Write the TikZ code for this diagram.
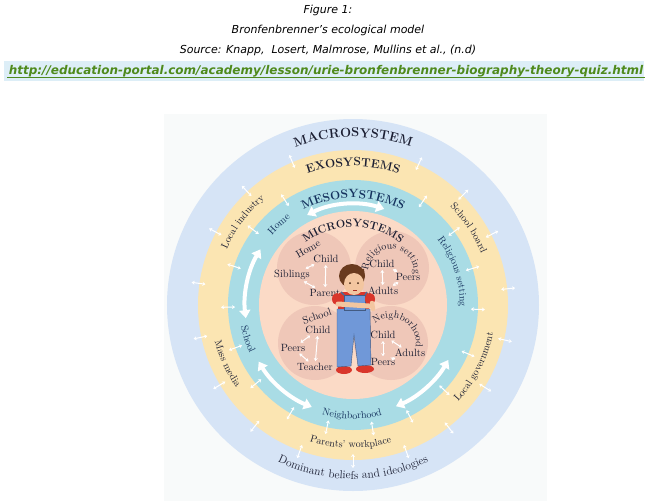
\documentclass[tikz,border=0pt]{standalone}
\usepackage{fontspec}
\newfontfamily\headfont{DejaVu Sans}
\usetikzlibrary{arrows.meta,decorations.text,positioning,calc}

\definecolor{panel}{HTML}{F8FAFA}
\definecolor{macro}{HTML}{D6E4F6}
\definecolor{exo}{HTML}{FBE5B2}
\definecolor{meso}{HTML}{A9DCE5}
\definecolor{micro}{HTML}{FBDAC6}
\definecolor{lobe}{HTML}{EFC7B8}
\definecolor{ink}{HTML}{1C1F33}
\definecolor{mesoink}{HTML}{15325E}
\definecolor{urlgreen}{HTML}{4F8A1C}
\definecolor{urlback}{HTML}{DDEEF7}
\definecolor{hair}{HTML}{6A3B1E}
\definecolor{skin}{HTML}{F3C6A0}
\definecolor{shirt}{HTML}{D9362B}
\definecolor{denim}{HTML}{7098D8}

\tikzset{
  headline/.style={font=\headfont\itshape\fontsize{11}{12}\selectfont, text=black},
  lobetext/.style={font=\fontsize{10.5}{11}\selectfont, text=ink, inner sep=1pt},
  bigarrow/.style={white, line width=4pt, {Triangle[width=11pt,length=8pt]}-{Triangle[width=11pt,length=8pt]}},
  tinyarrow/.style={white, line width=1pt, {Stealth[width=4pt,length=3pt]}-{Stealth[width=4pt,length=3pt]}},
}

% text set on an arc: radius, start, end, font, colour, text
\newcommand{\arclabel}[6]{%
  \path[decorate, decoration={text along path, text align=center, text color=#5,
    text={|#4|#6}}] (#2:#1) arc[start angle=#2, end angle=#3, radius=#1];}

\begin{document}
\begin{tikzpicture}[x=1pt, y=1pt]
  \useasboundingbox (-353,-196) rectangle (299,305);

  % caption
  \node[headline] (fig) at (-25,295) {Figure 1:};
  \node[headline] (title) at (-25,275) {Bronfenbrenner’s ecological model};
  \node[headline] (source) at (-25,255) {Source: Knapp,\ \ Losert, Malmrose, Mullins et al., (n.d)};
  \fill[urlback] (-349,224) rectangle (291,244);
  \node[font=\headfont\bfseries\itshape\fontsize{12}{12}\selectfont, text=urlgreen] (url) at (-27,234)
    {http://education-portal.com/academy/lesson/urie-bronfenbrenner-biography-theory-quiz.html};
  \draw[urlgreen, line width=0.8pt] ($(url.south west)+(2,3)$) -- ($(url.south east)+(-2,3)$);

  % rings
  \fill[panel] (-189,-196) rectangle (194,191);
  \fill[macro] (0,0) circle[radius=186];
  \fill[exo] (0,0) circle[radius=155];
  \fill[meso] (0,0) circle[radius=125];
  \fill[micro] (0,0) circle[radius=94];
  \fill[lobe] (-39,37) circle[radius=37];
  \fill[lobe] (39,37) circle[radius=37];
  \fill[lobe] (-38,-38) circle[radius=37];
  \fill[lobe] (38,-38) circle[radius=37];

  % arrows between the rings
  \foreach \a in {6,27,45,65,113,133,152,172,192,211,231,250,270,290,308,328,347}
    \draw[tinyarrow] (\a:149) -- (\a:163);
  \foreach \a in {17,36,56,123,143,162,181,200,219,240,258,279,297,317,337,358}
    \draw[tinyarrow] (\a:118) -- (\a:132);
  \draw[bigarrow] (117:101) arc[start angle=117, end angle=72, radius=101];
  \draw[bigarrow] (187:108) arc[start angle=187, end angle=149, radius=108];
  \draw[bigarrow] (211:110) arc[start angle=211, end angle=248, radius=110];
  \draw[bigarrow] (293:110) arc[start angle=293, end angle=330, radius=110];

  % ring titles and settings
  \arclabel{168}{130}{50}{\fontsize{13}{13}\selectfont\bfseries}{ink}{MACROSYSTEM}
  \arclabel{139}{130}{50}{\fontsize{12}{12}\selectfont\bfseries}{ink}{EXOSYSTEMS}
  \arclabel{107}{130}{50}{\fontsize{12}{12}\selectfont\bfseries}{mesoink}{MESOSYSTEMS}
  \arclabel{78}{140}{40}{\fontsize{11}{11}\selectfont\bfseries}{ink}{MICROSYSTEMS}
  \arclabel{138}{168}{118}{\fontsize{10}{10}\selectfont}{ink}{Local industry}
  \arclabel{138}{58}{9}{\fontsize{10}{10}\selectfont}{ink}{School board}
  \arclabel{143}{178}{232}{\fontsize{10}{10}\selectfont}{ink}{Mass media}
  \arclabel{143}{300}{366}{\fontsize{10}{10}\selectfont}{ink}{Local government}
  \arclabel{143}{235}{303}{\fontsize{10}{10}\selectfont}{ink}{Parents’ workplace}
  \arclabel{174}{212}{328}{\fontsize{11.5}{11.5}\selectfont}{ink}{Dominant beliefs and ideologies}
  \arclabel{107}{155}{110}{\fontsize{10}{10}\selectfont}{mesoink}{Home}
  \arclabel{107}{52}{-15}{\fontsize{10}{10}\selectfont}{mesoink}{Religious setting}
  \arclabel{114}{175}{221}{\fontsize{10}{10}\selectfont}{mesoink}{School}
  \arclabel{114}{240}{299}{\fontsize{10}{10}\selectfont}{mesoink}{Neighborhood}

  % home
  \node[lobetext, rotate=30] (ulhome) at (-45,56) {Home};
  \node[lobetext] (ulchild) at (-27,46) {Child};
  \node[lobetext] (ulsiblings) at (-61,30) {Siblings};
  \node[lobetext] (ulparent) at (-28,12) {Parent};
  % religious setting
  \path[decorate, decoration={text along path, text align=center, text color=ink,
    text={|\fontsize{10}{10}\selectfont|Religious setting}}] (38,33) ++(180:23) arc[start angle=180, end angle=-10, radius=23];
  \node[lobetext] (urchild) at (29,41) {Child};
  \node[lobetext] (urpeers) at (55,28) {Peers};
  \node[lobetext] (uradults) at (30,14) {Adults};
  % school
  \node[lobetext, rotate=18] (llschool) at (-36,-11) {School};
  \node[lobetext] (llchild) at (-35,-25) {Child};
  \node[lobetext] (llpeers) at (-60,-43) {Peers};
  \node[lobetext] (llteacher) at (-38,-62) {Teacher};
  % neighborhood
  \path[decorate, decoration={text along path, text align=center, text color=ink,
    text={|\fontsize{10}{10}\selectfont|Neighborhood}}] (38,-38) ++(135:25) arc[start angle=135, end angle=-15, radius=25];
  \node[lobetext] (lrchild) at (30,-30) {Child};
  \node[lobetext] (lradults) at (57,-48) {Adults};
  \node[lobetext] (lrpeers) at (30,-57) {Peers};

  \draw[tinyarrow, shorten <=1pt, shorten >=1pt] (ulchild) -- (ulparent);
  \draw[tinyarrow, shorten <=1pt, shorten >=1pt] (ulchild) -- (ulsiblings);
  \draw[tinyarrow, shorten <=1pt, shorten >=1pt] (ulsiblings) -- (ulparent);
  \draw[tinyarrow, shorten <=1pt, shorten >=1pt] (urchild) -- (uradults);
  \draw[tinyarrow, shorten <=1pt, shorten >=1pt] (urchild) -- (urpeers);
  \draw[tinyarrow, shorten <=1pt, shorten >=1pt] (urpeers) -- (uradults);
  \draw[tinyarrow, shorten <=1pt, shorten >=1pt] (llchild) -- (llteacher);
  \draw[tinyarrow, shorten <=1pt, shorten >=1pt] (llchild) -- (llpeers);
  \draw[tinyarrow, shorten <=1pt, shorten >=1pt] (llpeers) -- (llteacher);
  \draw[tinyarrow, shorten <=1pt, shorten >=1pt] (lrchild) -- (lrpeers);
  \draw[tinyarrow, shorten <=1pt, shorten >=1pt] (lrchild) -- (lradults);
  \draw[tinyarrow, shorten <=1pt, shorten >=1pt] (lradults) -- (lrpeers);

  % the child
  \fill[shirt] (-9,-65) ellipse[x radius=8, y radius=4];
  \fill[shirt] (12,-64) ellipse[x radius=9, y radius=4];
  \fill[shirt, rounded corners=4pt] (-15,13) rectangle (16,-8);
  \fill[denim, draw=denim!60!black, line width=0.4pt] (-16,-4) -- (17,-4) -- (18,-60) -- (5,-61)
    -- (1,-30) -- (-2,-61) -- (-16,-62) -- cycle;
  \fill[denim, draw=denim!60!black, line width=0.4pt] (-9,10) rectangle (12,-5);
  \draw[denim!70!black, line width=1.5pt] (-9,10) -- (-12,13) (12,10) -- (14,13);
  \fill[shirt] (-16,6) ellipse[x radius=5, y radius=6];
  \fill[shirt] (17,6) ellipse[x radius=5, y radius=6];
  \draw[skin, line width=5pt, line cap=round] (-15,1) -- (16,-1);
  \draw[skin, line width=4.5pt, line cap=round] (19,2) -- (20,-4);
  \fill[skin] (-1,12) rectangle (4,16);
  \fill[hair] (-1,29) ellipse[x radius=13, y radius=12];
  \fill[skin] (1,21) ellipse[x radius=10, y radius=11];
  \fill[hair] (-10,30) .. controls (-2,36) and (6,34) .. (12,27) -- (11,36) -- (-10,37) -- cycle;
  \fill[hair!60!black] (-3,22) circle[radius=1] (5,22) circle[radius=1];
  \draw[shirt!80!black, line width=0.6pt] (0,15) -- (4,15);
\end{tikzpicture}
\end{document}
